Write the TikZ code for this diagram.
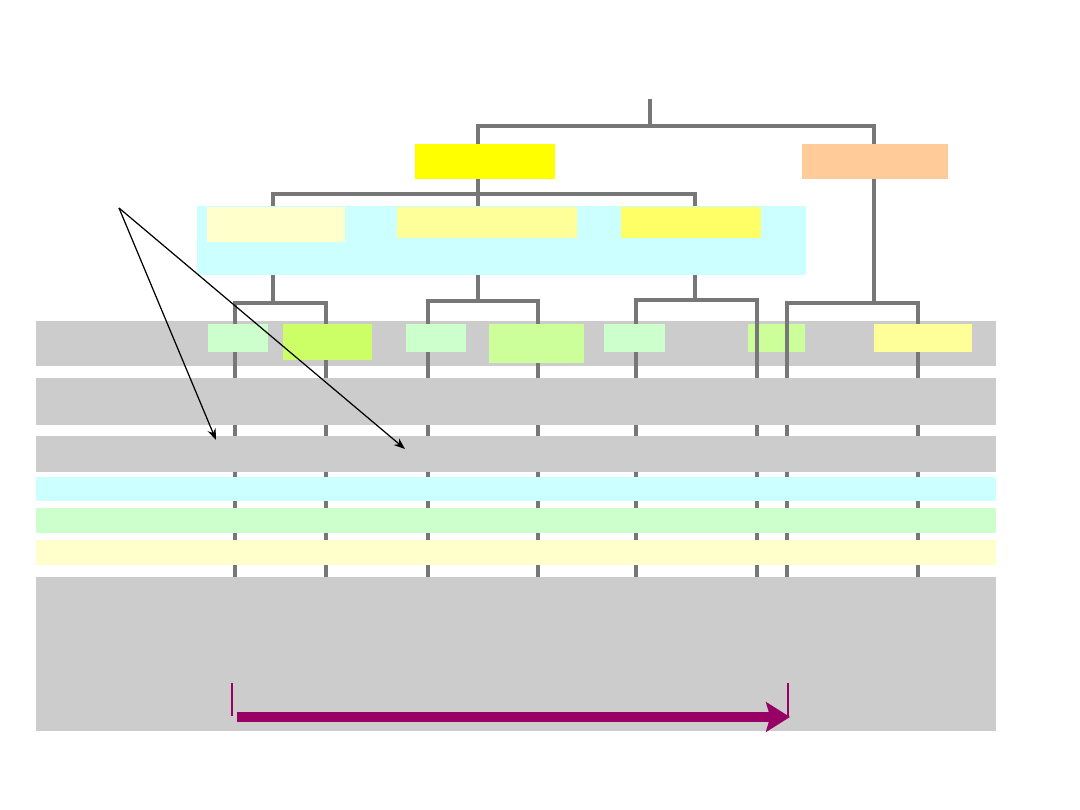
\documentclass[tikz,border=0pt]{standalone}
\usetikzlibrary{fit,arrows.meta}
\definecolor{bandgray}{HTML}{CCCCCC}
\definecolor{treegray}{HTML}{777777}
\definecolor{cyanbg}{HTML}{CCFFFF}
\definecolor{yel}{HTML}{FFFF00}
\definecolor{orng}{HTML}{FFCC99}
\definecolor{paleyel}{HTML}{FFFFCC}
\definecolor{lightyel}{HTML}{FFFF99}
\definecolor{midyel}{HTML}{FFFF66}
\definecolor{palegreen}{HTML}{CCFFCC}
\definecolor{limegreen}{HTML}{CCFF66}
\definecolor{softgreen}{HTML}{CCFF99}
\definecolor{plum}{HTML}{990066}
\tikzset{
  box/.style={draw=none,inner sep=0pt,outer sep=0pt,rectangle},
  tree/.style={draw=treegray,line width=1.05pt},
  pointer/.style={draw=black,line width=0.35pt,-{Stealth[length=3.2pt,width=2.4pt]}},
  span/.style={draw=plum,line width=2.85pt,-{Stealth[length=6.8pt,width=8.4pt,inset=1.2pt]}},
  tick/.style={draw=plum,line width=0.75pt}
}
\newcommand{\mkbox}[6]{\node[box,fill=#2,fit={(#3,#4)(#5,#6)}] (#1) {};}
\begin{document}
\begin{tikzpicture}[x=0.1mm,y=-0.1mm]
\useasboundingbox[fill=white] (0,0) rectangle (1080,810);
% first band and panel (behind lines)
\mkbox{band1}{bandgray}{36}{321}{996}{366}
\mkbox{panel}{cyanbg}{197}{206}{806}{275}
\mkbox{g6}{softgreen}{748}{324}{805}{352}
% top level boxes
\mkbox{a1}{yel}{415}{144}{555}{179}
\mkbox{a2}{orng}{802}{144}{948}{179}
% tree coordinates
\coordinate (top) at (650,99);
\coordinate (j0) at (650,126);
\coordinate (a1t) at (478,144);
\coordinate (a1b) at (478,179);
\coordinate (a2t) at (874,144);
\coordinate (a2b) at (874,179);
\coordinate (j1) at (478,194);
\coordinate (p1) at (273,206);
\coordinate (p2) at (478,206);
\coordinate (p3) at (695,206);
\coordinate (q1) at (273,275);
\coordinate (q2) at (478,275);
\coordinate (q3) at (695,275);
\coordinate (r1) at (273,303);
\coordinate (r2) at (478,301);
\coordinate (r3) at (695,300);
\coordinate (r4) at (874,303);
\foreach \n/\x/\y in {l1/235/303,l2/326/303,l3/428/301,l4/538/301,l5/636/300,l6/757/300,l7/787/303,l8/918/303}{
  \coordinate (\n) at (\x,\y);
  \coordinate (\n e) at (\x,577);
}
% tree lines
\draw[tree] (top) -- (j0);
\draw[tree] (a1t) |- (j0) -| (a2t);
\draw[tree] (a1b) -- (j1);
\draw[tree] (p1) |- (j1) -| (p3);
\draw[tree] (j1) -- (p2);
\draw[tree] (a2b) -- (r4);
\draw[tree] (q1) -- (r1);
\draw[tree] (q2) -- (r2);
\draw[tree] (q3) -- (r3);
\draw[tree] (l1e) -- (l1) -- (l2) -- (l2e);
\draw[tree] (l3e) -- (l3) -- (l4) -- (l4e);
\draw[tree] (l5e) -- (l5) -- (l6) -- (l6e);
\draw[tree] (l7e) -- (l7) -- (l8) -- (l8e);
% bands over lines
\mkbox{band2}{bandgray}{36}{378}{996}{425}
\mkbox{band3}{bandgray}{36}{436}{996}{472}
\mkbox{band4}{cyanbg}{36}{477}{996}{501}
\mkbox{band5}{palegreen}{36}{508}{996}{533}
\mkbox{band6}{paleyel}{36}{540}{996}{565}
\mkbox{band7}{bandgray}{36}{577}{996}{731}
% boxes in panel
\mkbox{b1}{paleyel}{207}{207}{345}{242}
\mkbox{b2}{lightyel}{397}{207}{577}{238}
\mkbox{b3}{midyel}{621}{207}{761}{238}
% boxes in first band
\mkbox{g1}{palegreen}{208}{324}{268}{352}
\mkbox{g2}{limegreen}{283}{324}{372}{360}
\mkbox{g3}{palegreen}{406}{324}{466}{352}
\mkbox{g4}{softgreen}{489}{324}{584}{363}
\mkbox{g5}{palegreen}{604}{324}{665}{352}
\mkbox{g7}{lightyel}{874}{324}{972}{352}
% pointer arrows
\coordinate (src) at (119,208);
\coordinate (dst1) at (216,440);
\coordinate (dst2) at (405,449);
\draw[pointer] (src) -- (dst1);
\draw[pointer] (src) -- (dst2);
% span arrow
\coordinate (s1t) at (232,683);
\coordinate (s1b) at (232,716);
\coordinate (s2t) at (788,683);
\coordinate (s2b) at (788,717);
\coordinate (sa) at (237,717);
\coordinate (sb) at (790,717);
\draw[tick] (s1t) -- (s1b);
\draw[tick] (s2t) -- (s2b);
\draw[span] (sa) -- (sb);
\end{tikzpicture}
\end{document}
